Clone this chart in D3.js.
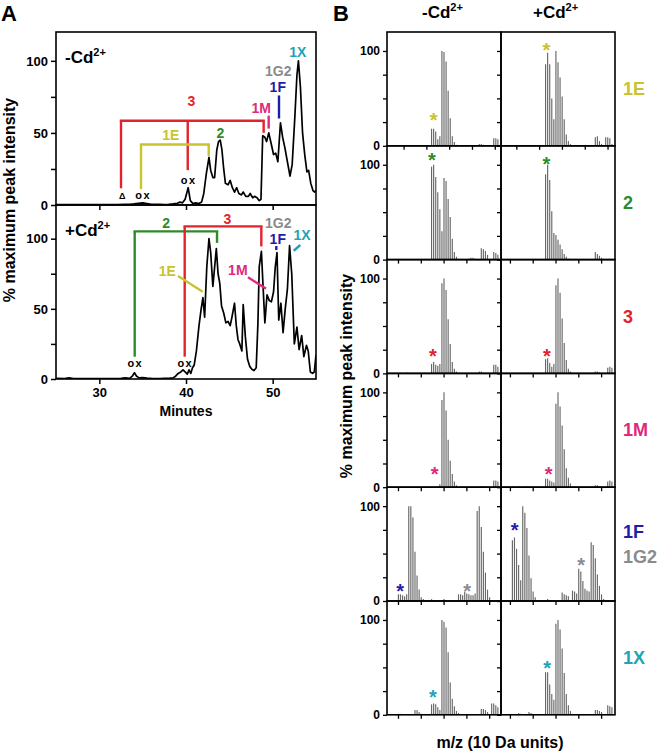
<!DOCTYPE html>
<html><head><meta charset="utf-8">
<script src="https://cdn.jsdelivr.net/npm/d3@7"></script>
<style>
body{margin:0;background:#fff}
text{font-family:"Liberation Sans",Arial,Helvetica,sans-serif;font-weight:bold}
</style>
</head><body>
<svg id="chart" width="660" height="754"></svg>
<script>
// ================= DATA =================
// Panel A: chromatograms (minutes, % maximum peak intensity)
const minutesTicks = [30, 40, 50];
const intensityTicksA = [0, 25, 50, 75, 100];
const intensityLabelsA = [0, 50, 100];

const timeMinus = [25,26,27,28,29,30,31,32,33,33.5,34,34.5,35,35.5,36,36.5,37,37.5,38,38.5,39,39.3,39.6,39.9,40.25,40.5,40.8,41.1,41.5,41.8,42.05,42.35,42.65,42.85,43.1,43.3,43.55,43.75,43.95,44.15,44.35,44.55,44.85,45.1,45.35,45.6,45.85,46.1,46.4,46.6,46.9,47.2,47.4,47.7,47.9,48.2,48.45,48.65,48.85,49.1,49.3,49.55,49.85,50.1,50.35,50.6,50.9,51.15,51.4,51.7,52.0,52.25,52.55,52.8,52.97,53.2,53.45,53.7,53.95,54.15,54.4,54.65,54.85,55];
const intensityMinus = [0.3,0.2,0.3,0.2,0.3,0.3,0.2,0.3,0.5,0.5,0.8,1.2,1.5,1,0.5,0.4,0.5,0.3,0.5,0.8,1.2,2,1.5,4,12,3,1,1.5,1,2,8,22,33,24,19,19,38,44,45,38,25,15,14,17,12,9,12,8,7,9,6,6,8,5,6,5,3,4,48,47,44,50,42,35,36,30,57,47,40,30,20,28,60,90,100,82,50,35,23,24,15,10,9,10];

const timePlus = [25,26,26.5,27,28,29,30,31,32,32.5,33,33.5,33.8,34.05,34.3,34.6,35,35.5,36,36.5,37,37.5,38,38.5,38.8,39.1,39.4,39.65,39.9,40.15,40.35,40.55,40.75,40.95,41.2,41.5,41.75,41.95,42.15,42.4,42.65,42.85,43.1,43.5,43.7,43.9,44.1,44.35,44.6,44.85,45.1,45.3,45.6,45.8,46.0,46.2,46.45,46.6,46.85,47.1,47.35,47.6,47.85,48.1,48.3,48.45,48.7,48.9,49.1,49.35,49.6,49.85,50.1,50.3,50.5,50.7,50.95,51.2,51.45,51.7,51.95,52.2,52.5,52.8,53.05,53.35,53.6,53.9,54.1,54.35,54.6,54.8,55];
const intensityPlus = [0.5,0.3,0.8,0.3,0.2,0.3,0.3,0.2,0.3,0.5,0.8,0.5,2,4.5,2,0.8,1,0.6,0.4,0.3,0.3,0.4,0.5,0.8,2,4,5,6.5,5,3.5,6.5,4,8,10,20,38,50,58,44,80,100,90,66,93,75,68,52,47,40,41,38,44,54,38,28,25,20,53,30,14,9,7,6,8,40,80,91,65,40,60,56,55,62,80,90,42,54,33,50,64,95,75,25,37,21,31,16,24,20,5,4,5,17];

// Panel A annotations (in data units: minutes, %)
const bracketsMinus = [
  {color:"red",    level:58.4, from:32.5,  to:48.96, drops:[[32.5,11.6],[40.2,24.2],[48.96,50.1]]},
  {color:"yellow", level:42,   from:34.81, to:42.62, drops:[[34.81,11],[42.62,34]]}
];
const labelsMinus = [
  {text:"3",   color:"red",    t:40.61, v:68.4},
  {text:"1E",  color:"yellow", t:38.25, v:45.2},
  {text:"2",   color:"green",  t:43.98, v:46.3},
  {text:"1M",  color:"pink",   t:48.68, v:63.5},
  {text:"1F",  color:"blue",   t:50.59, v:78.6},
  {text:"1G2", color:"gray",   t:50.65, v:89.7},
  {text:"1X",  color:"cyan",   t:52.9,  v:102.9}
];
const leadersMinus = [
  {color:"pink", t0:49.54, v0:62, t1:49.54, v1:53},
  {color:"blue", t0:50.73, v0:76, t1:50.73, v1:60}
];
const marksMinus = [
  {text:"\u0394", t:32.65, v:4.4, size:9},
  {text:"ox", t:35.06, v:4.4, size:11},
  {text:"ox", t:40.31, v:14.8, size:11}
];

const bracketsPlus = [
  {color:"green", level:105.2, from:34.08, to:43.58, drops:[[34.08,15.9],[43.58,97]]},
  {color:"red",   level:108.8, from:39.85, to:48.69, drops:[[39.85,15.9],[48.69,94.5]]}
];
const labelsPlus = [
  {text:"2",   color:"green",  t:37.71, v:107.4},
  {text:"3",   color:"red",    t:44.77, v:110.5},
  {text:"1G2", color:"gray",   t:50.65, v:107.4},
  {text:"1F",  color:"blue",   t:50.59, v:96.2},
  {text:"1X",  color:"cyan",   t:53.38, v:99.1},
  {text:"1E",  color:"yellow", t:37.84, v:73.4},
  {text:"1M",  color:"pink",   t:45.98, v:74.1}
];
const leadersPlus = [
  {color:"blue",   t0:50.42, v0:94.8, t1:50.42, v1:91.9},
  {color:"cyan",   t0:53.19, v0:95.5, t1:52.43, v1:91.4},
  {color:"yellow", t0:39.08, v0:73.4, t1:41.93, v1:62.2},
  {color:"pink",   t0:47.15, v0:72.5, t1:49.23, v1:64.4}
];
const marksPlus = [
  {text:"ox", t:34.15, v:8.8, size:11},
  {text:"ox", t:39.92, v:8.8, size:11}
];

// Panel B: isotope spectra, [peak index, % max intensity]
const rowNames = [["1E"],["2"],["3"],["1M"],["1F","1G2"],["1X"]];
const rowColors = [["yellow"],["green"],["red"],["pink"],["blue","gray"],["cyan"]];
const intensityTicksB = [0, 25, 50, 75, 100];
const intensityLabelsB = [0, 100];

const spec1E_minus = [[21,18],[22,18],[23,15],[24,7],[25,10],[26,100],[27,99],[28,89],[29,58],[30,29],[31,10],[32,4],[33,1],[44,2],[45,2],[46,1],[51,8],[52,8],[53,7]];
const spec1E_plus  = [[21,86],[22,98],[23,86],[24,50],[25,28],[26,100],[27,88],[28,72],[29,52],[30,28],[31,12],[32,5],[33,2],[45,9],[46,10],[47,5],[48,2],[50,9],[51,9],[52,8],[53,2]];
const spec2_minus  = [[21,98],[22,100],[23,87],[24,71],[25,53],[26,30],[27,86],[28,83],[29,64],[30,45],[31,22],[32,8],[33,3],[34,1],[39,1],[40,2],[41,2],[42,1],[45,12],[46,11],[47,9],[48,5],[51,8],[52,7],[53,5]];
const spec2_plus   = [[21,90],[22,100],[23,84],[24,51],[25,28],[26,26],[27,21],[28,16],[29,11],[30,6],[31,3],[32,1],[45,8],[46,6],[47,4],[48,2],[52,1]];
const spec3_minus  = [[9,1],[21,10],[22,12],[23,9],[24,8],[25,10],[26,95],[27,100],[28,88],[29,57],[30,31],[31,12],[32,5],[33,2],[44,2],[45,2],[46,1],[51,9],[52,9],[53,7]];
const spec3_plus   = [[21,15],[22,16],[23,11],[24,7],[25,10],[26,93],[27,100],[28,85],[29,58],[30,32],[31,14],[32,5],[33,2],[45,2],[46,2],[47,1],[51,6],[52,7],[53,6]];
const spec1M_minus = [[25,3],[26,92],[27,100],[28,81],[29,50],[30,28],[31,14],[32,6],[33,2],[45,1],[46,1],[51,7],[52,7],[53,6]];
const spec1M_plus  = [[5,1],[8,1],[12,1],[21,9],[22,9],[23,7],[24,6],[25,5],[26,88],[27,100],[28,85],[29,65],[30,40],[31,20],[32,10],[33,4],[34,1],[45,2],[46,2],[51,6],[52,7],[53,6]];
const spec1F_minus = [[5,7],[6,7],[7,6],[8,5],[9,7],[10,100],[11,100],[12,88],[13,52],[14,27],[15,12],[16,4],[17,2],[20,1],[21,2],[22,1],[26,1],[27,2],[28,1],[34,7],[35,7],[36,6],[37,10],[38,8],[39,7],[40,6],[41,6],[42,8],[43,95],[44,100],[45,78],[46,52],[47,30],[48,12],[49,4],[50,1]];
const spec1F_plus  = [[5,64],[6,67],[7,55],[8,38],[9,22],[10,100],[11,93],[12,77],[13,48],[14,24],[15,10],[16,4],[17,1],[21,1],[22,2],[23,1],[29,9],[30,7],[31,6],[32,5],[34,11],[35,10],[36,8],[37,34],[38,31],[39,21],[40,13],[41,11],[42,10],[43,62],[44,59],[45,45],[46,28],[47,16],[48,7],[49,2]];
const spec1X_minus = [[5,1],[6,1],[13,5],[14,5],[15,3],[16,1],[21,11],[22,12],[23,11],[24,8],[25,5],[26,100],[27,98],[28,92],[29,66],[30,34],[31,17],[32,9],[33,4],[34,2],[45,6],[46,6],[47,5],[48,3],[50,12],[51,12],[52,10],[53,8]];
const spec1X_plus  = [[8,2],[9,1],[13,3],[14,2],[21,45],[22,45],[23,32],[24,22],[25,16],[26,96],[27,100],[28,90],[29,70],[30,44],[31,22],[32,10],[33,4],[34,1],[45,5],[46,5],[47,4],[48,3],[51,10],[52,9],[53,8]];

// asterisks marking the unmodified species: [position, height, color]
const stars_minus = [[[22.5,31,"yellow"]],[[21.7,109,"green"]],[[22.2,23,"red"]],[[23.0,18,"pink"]],[[6.4,15,"blue"],[38.7,15,"gray"]],[[22.2,23,"cyan"]]];
const stars_plus  = [[[21.85,105,"yellow"]],[[21.85,105,"green"]],[[22.2,23,"red"]],[[23.0,18,"pink"]],[[6.6,79,"blue"],[38.7,42,"gray"]],[[22.3,54,"cyan"]]];

// m/z tick marks (10 Da units) per row, in peak-index units: [left col, right col]
const mzTicks = [
  [[8,19,30,41,52],[7.4,18.4,29.4,40.4,51.4]],
  [[5.3,16.3,27.3,38.3,49.3],[4.3,15.3,26.3,37.3,48.3]],
  [[5.3,16.3,27.3,38.3,49.3],[4.3,15.3,26.3,37.3,48.3]],
  [[5.3,16.3,27.3,38.3,49.3],[4.3,15.3,26.3,37.3,48.3]],
  [[5.3,16.3,27.3,38.3,49.3],[4.3,15.3,26.3,37.3,48.3]],
  [[5.3,16.3,27.3,38.3,49.3],[4.3,15.3,26.3,37.3,48.3]]
];
const spectra = [
  [spec1E_minus, spec1E_plus],
  [spec2_minus, spec2_plus],
  [spec3_minus, spec3_plus],
  [spec1M_minus, spec1M_plus],
  [spec1F_minus, spec1F_plus],
  [spec1X_minus, spec1X_plus]
];
const starSets = [stars_minus, stars_plus];

// ================= STYLE =================
const COLORS = {red:"#e3232b", yellow:"#c9c32d", green:"#2f8a2a", pink:"#df2a7b",
                blue:"#1e1ea6", gray:"#8b8b8b", cyan:"#1fa3b6", black:"#000"};
const svg = d3.select("#chart");

// ================= PANEL A =================
const xA = d3.scaleLinear().domain([25, 55]).range([56, 316]);
const panelsA = [
  {y: d3.scaleLinear().domain([0,120]).range([205,32]), t: timeMinus, v: intensityMinus,
   sign:"-", brackets: bracketsMinus, labels: labelsMinus, leaders: leadersMinus, marks: marksMinus, bottom:false},
  {y: d3.scaleLinear().domain([0,124]).range([379,205]), t: timePlus, v: intensityPlus,
   sign:"+", brackets: bracketsPlus, labels: labelsPlus, leaders: leadersPlus, marks: marksPlus, bottom:true}
];

panelsA.forEach((p, i) => {
  const g = svg.append("g");
  const [y0, y1] = p.y.range();
  const clipId = "clipA" + i;
  svg.append("clipPath").attr("id", clipId).append("rect")
    .attr("x", xA.range()[0]).attr("y", y1).attr("width", xA.range()[1]-xA.range()[0]).attr("height", y0-y1);

  const line = d3.line().x(d => xA(d[0])).y(d => p.y(d[1])).curve(d3.curveLinear);
  g.append("path").datum(d3.zip(p.t, p.v)).attr("d", line)
    .attr("clip-path", `url(#${clipId})`)
    .attr("fill","none").attr("stroke","#000").attr("stroke-width",1.7).attr("stroke-linejoin","round");

  p.brackets.forEach(b => {
    const c = COLORS[b.color];
    g.append("line").attr("x1", xA(b.from)).attr("x2", xA(b.to)).attr("y1", p.y(b.level)).attr("y2", p.y(b.level))
      .attr("stroke", c).attr("stroke-width", 2.4).attr("stroke-linecap","square");
    b.drops.forEach(d => {
      g.append("line").attr("x1", xA(d[0])).attr("x2", xA(d[0])).attr("y1", p.y(b.level)).attr("y2", p.y(d[1]))
        .attr("stroke", c).attr("stroke-width", 2.4);
    });
  });
  p.leaders.forEach(l => {
    g.append("line").attr("x1", xA(l.t0)).attr("x2", xA(l.t1)).attr("y1", p.y(l.v0)).attr("y2", p.y(l.v1))
      .attr("stroke", COLORS[l.color]).attr("stroke-width", 2.4);
  });
  p.labels.forEach(l => {
    g.append("text").attr("x", xA(l.t)).attr("y", p.y(l.v)).attr("text-anchor","middle")
      .attr("font-size", 14).attr("fill", COLORS[l.color]).text(l.text);
  });
  p.marks.forEach(m => {
    g.append("text").attr("x", xA(m.t)).attr("y", p.y(m.v)).attr("text-anchor","middle")
      .attr("font-size", m.size).attr("letter-spacing", m.text === "ox" ? 1.5 : 0).attr("fill","#000").text(m.text);
  });

  g.append("rect").attr("x", xA.range()[0]).attr("y", y1).attr("width", xA.range()[1]-xA.range()[0]).attr("height", y0-y1)
    .attr("fill","none").attr("stroke","#000").attr("stroke-width",1.6);

  const ya = g.append("g").attr("transform", `translate(${xA.range()[0]},0)`)
    .call(d3.axisLeft(p.y).tickValues(intensityTicksA).tickSize(5).tickPadding(3)
      .tickFormat(d => intensityLabelsA.includes(d) ? d : ""));
  ya.select(".domain").remove();
  ya.selectAll("line").attr("stroke-width",1.5);
  ya.selectAll("text").attr("font-size",13).attr("font-family","Liberation Sans, Arial, sans-serif").attr("font-weight","bold");

  const xa = g.append("g").attr("transform", `translate(0,${y0})`)
    .call(d3.axisBottom(xA).tickValues(minutesTicks).tickSize(5).tickPadding(4)
      .tickFormat(d => p.bottom ? d : ""));
  xa.select(".domain").remove();
  xa.selectAll("line").attr("stroke-width",1.5);
  xa.selectAll("text").attr("font-size",13).attr("font-family","Liberation Sans, Arial, sans-serif").attr("font-weight","bold");

  const tl = g.append("text").attr("x", 65).attr("y", y1 + 31).attr("font-size", 17).attr("fill","#000");
  tl.append("tspan").text(p.sign + "Cd");
  tl.append("tspan").attr("font-size", 11).attr("dy", -7).text("2+");
});

svg.append("text").attr("x", 186).attr("y", 416).attr("text-anchor","middle").attr("font-size",14).text("Minutes");
svg.append("text").attr("transform","translate(15,200) rotate(-90)").attr("text-anchor","middle").attr("font-size",16)
  .text("% maximum peak intensity");
svg.append("text").attr("x", 1).attr("y", 21).attr("font-size", 22).text("A");

// ================= PANEL B =================
const colLeft = [387, 501], colW = 114, rowTop0 = 32, rowH = 113.8;

spectra.forEach((row, r) => {
  const top = rowTop0 + r*rowH, bot = top + rowH;
  const y = d3.scaleLinear().domain([0,120]).range([bot, top]);
  row.forEach((spec, c) => {
    const left = colLeft[c];
    const x = d3.scaleLinear().domain([0,55]).range([left, left + colW]);
    const g = svg.append("g");
    g.selectAll("line.bar").data(spec).join("line").attr("class","bar")
      .attr("x1", d => x(d[0]+0.5)).attr("x2", d => x(d[0]+0.5))
      .attr("y1", y(0)).attr("y2", d => y(d[1]))
      .attr("stroke","#676767").attr("stroke-width",1.15);
    starSets[c][r].forEach(s => {
      g.append("text").attr("x", x(s[0])).attr("y", y(s[1]) + 11).attr("text-anchor","middle")
        .attr("font-size", 20).attr("fill", COLORS[s[2]]).text("*");
    });
    g.append("rect").attr("x", left).attr("y", top).attr("width", colW).attr("height", rowH)
      .attr("fill","none").attr("stroke","#000").attr("stroke-width",1.6);
    const ya = g.append("g").attr("transform", `translate(${left},0)`)
      .call(d3.axisLeft(y).tickValues(intensityTicksB).tickSize(4).tickPadding(3)
        .tickFormat(d => (c === 0 && intensityLabelsB.includes(d)) ? d : ""));
    ya.select(".domain").remove();
    ya.selectAll("line").attr("stroke-width",1.3);
    ya.selectAll("text").attr("font-size",12).attr("font-family","Liberation Sans, Arial, sans-serif").attr("font-weight","bold");
    const xa = g.append("g").attr("transform", `translate(0,${bot})`)
      .call(d3.axisBottom(x).tickValues(mzTicks[r][c]).tickSize(4).tickFormat(""));
    xa.select(".domain").remove();
    xa.selectAll("line").attr("stroke-width",1.3);
  });
  const names = rowNames[r];
  const midY = (top + bot) / 2;
  names.forEach((n, k) => {
    const yy = names.length === 1 ? midY + 6 : midY - 6 + k*25;
    svg.append("text").attr("x", 623).attr("y", yy).attr("font-size", 18)
      .attr("fill", COLORS[rowColors[r][k]]).text(n);
  });
});

[["-", 422], ["+", 533]].forEach(([s, xx]) => {
  const t = svg.append("text").attr("x", xx).attr("y", 18).attr("font-size", 17);
  t.append("tspan").text(s + "Cd");
  t.append("tspan").attr("font-size", 11).attr("dy", -7).text("2+");
});
svg.append("text").attr("x", 333).attr("y", 21).attr("font-size", 22).text("B");
svg.append("text").attr("transform","translate(352,376) rotate(-90)").attr("text-anchor","middle").attr("font-size",16)
  .text("% maximum peak intensity");
svg.append("text").attr("x", 500).attr("y", 748).attr("text-anchor","middle").attr("font-size",16).text("m/z (10 Da units)");
</script>
</body></html>
